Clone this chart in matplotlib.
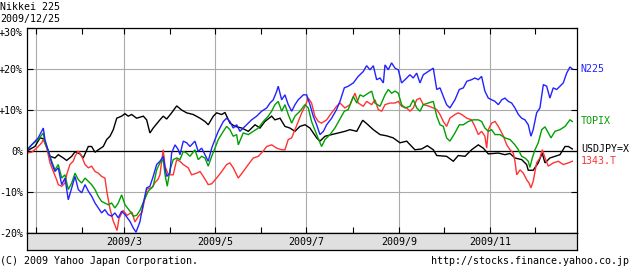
import matplotlib
matplotlib.use('Agg')
import matplotlib.pyplot as plt
import matplotlib.dates as mdates
import numpy as np
import datetime as dt

# ---- data: (days since 2009-01-01, % change since 2008-12-26) ----
usdjpy = [(-6.0, 0), (-0.5, 1.1), (2.9, 3.2), (5.1, 3.0), (7.4, 1.1), (9.6, -1.3), (12.9, -1.7),
          (15.1, -0.9), (18.5, -1.7), (20.7, -2.3), (24.1, -1.3), (26.3, -0.2), (29.6, -0.7),
          (31.8, -1.7), (35.2, 1.1), (37.4, 1.1), (39.7, -0.3), (41.9, 0.3), (45.2, 1.1),
          (47.5, 2.8), (49.7, 3.6), (51.9, 5.2), (54.2, 8.0), (57.5, 8.5), (59.7, 9.1),
          (61.9, 8.5), (64.2, 8.9), (67.5, 8.0), (72.0, 8.5), (74.2, 7.6), (76.4, 4.4),
          (78.6, 5.6), (83.1, 7.6), (85.3, 8.5), (87.6, 7.8), (90.9, 9.3), (94.3, 11.0),
          (97.6, 10.0), (101.0, 9.3), (105.4, 8.9), (109.9, 8.0), (113.2, 7.2), (115.4, 6.4),
          (118.8, 8.5), (121.0, 9.3), (124.4, 8.9), (126.6, 9.4), (129.9, 6.8), (133.3, 6.0),
          (137.8, 5.6), (142.2, 4.8), (146.7, 6.4), (150.0, 5.6), (153.3, 7.2), (157.8, 8.5),
          (160.0, 7.6), (163.4, 8.0), (166.7, 6.0), (170.0, 5.6), (173.4, 4.8), (176.7, 6.0),
          (180.1, 6.4), (183.4, 5.6), (187.9, 3.2), (190.1, 2.4), (193.5, 3.6), (197.9, 4.0),
          (202.4, 4.4), (206.8, 4.8), (210.2, 5.2), (214.7, 4.8), (218.7, 7.5), (221.3, 6.7),
          (225.8, 5.2), (230.3, 4.0), (234.7, 3.7), (239.1, 3.2), (243.6, 2.0), (248.1, 2.4),
          (253.6, 0.3), (258.1, 0.5), (261.9, 1.3), (265.9, 0.3), (268.2, -1.1), (274.8, -1.3),
          (279.3, -2.5), (282.6, -1.1), (287.1, -1.3), (291.5, 0.3), (296.0, 1.5), (299.3, 0.7),
          (302.7, -0.7), (309.4, -0.5), (313.8, -0.9), (317.2, -0.6), (320.5, -1.7), (325.0, -2.1),
          (328.3, -3.3), (329.4, -4.7), (332.7, -4.7), (336.1, -2.9), (338.7, -0.5), (340.6, -2.9),
          (343.9, -1.7), (347.3, -1.3), (350.6, -0.9), (354.0, 1.1), (356.2, 1.1), (358.9, 0.5)]

n225 = [(-6.0, 0), (-2.7, 1.5), (1.7, 3.2), (5.1, 5.6), (6.2, 2.8), (8.4, 0), (10.7, -2.9),
        (12.9, -5.0), (15.1, -4.1), (17.4, -8.2), (19.6, -6.6), (21.8, -11.9), (24.1, -9.0),
        (26.3, -6.2), (28.5, -9.4), (30.8, -10.2), (33.0, -8.2), (35.2, -9.8), (37.4, -11.0),
        (39.7, -12.7), (41.9, -13.9), (44.1, -15.1), (46.3, -14.3), (48.5, -15.5), (50.8, -15.9),
        (53.0, -15.1), (55.2, -16.3), (57.5, -14.7), (59.7, -15.5), (63.1, -17.2), (65.3, -18.8),
        (67.1, -19.8), (69.7, -17.3), (72.0, -12.7), (74.2, -9.0), (76.4, -8.6), (78.6, -6.2),
        (80.9, -3.3), (83.1, -2.5), (85.3, -1.3), (86.5, -4.1), (87.6, -6.2), (89.8, -5.4),
        (90.9, -0.5), (93.2, 1.5), (95.4, 0.3), (96.5, -0.9), (98.7, 2.4), (101.0, 2.0),
        (103.2, 1.1), (106.5, 2.4), (108.7, -0.1), (111.0, 0.7), (113.2, -0.9), (115.4, -2.5),
        (117.7, 0.7), (119.9, 2.8), (122.1, 4.8), (125.5, 7.2), (127.7, 8.0), (129.9, 7.2),
        (132.1, 5.6), (134.4, 6.4), (136.6, 4.8), (141.1, 6.4), (144.4, 7.6), (147.8, 8.5),
        (151.1, 9.7), (154.5, 10.5), (156.7, 11.7), (158.9, 12.5), (161.2, 14.6), (162.2, 15.8),
        (164.5, 12.5), (166.7, 13.7), (168.9, 11.3), (171.2, 9.7), (173.4, 11.3), (175.6, 12.5),
        (179.0, 13.7), (181.2, 13.7), (183.4, 11.3), (185.6, 8.5), (187.9, 6.4), (190.1, 4.0),
        (192.4, 4.8), (194.6, 6.4), (197.9, 8.0), (201.2, 10.1), (203.5, 12.1), (206.4, 15.4),
        (209.0, 15.8), (212.4, 16.6), (215.7, 18.2), (219.1, 19.4), (221.3, 20.8), (223.6, 19.8),
        (225.8, 20.8), (228.0, 17.4), (230.3, 17.8), (232.5, 16.6), (233.6, 21.0), (235.8, 19.8),
        (238.0, 21.5), (240.3, 20.2), (242.5, 19.8), (244.7, 16.6), (247.0, 17.4), (250.3, 18.6),
        (252.5, 17.8), (254.8, 19.0), (257.0, 16.6), (259.2, 18.6), (262.5, 19.4), (265.9, 20.2),
        (268.2, 15.0), (270.4, 15.4), (272.6, 13.3), (274.8, 11.3), (277.0, 10.5), (280.4, 12.5),
        (283.3, 15.0), (286.0, 15.4), (288.3, 17.0), (291.5, 17.4), (293.7, 17.8), (296.0, 17.4),
        (298.2, 18.2), (300.4, 14.6), (302.7, 12.9), (304.9, 12.5), (307.2, 12.1), (309.4, 11.3),
        (311.7, 12.5), (313.8, 12.9), (316.1, 12.1), (318.3, 11.7), (320.5, 10.5), (322.8, 8.9),
        (325.0, 8.0), (327.2, 7.6), (329.4, 6.4), (331.2, 3.6), (332.7, 5.2), (335.0, 9.3),
        (337.2, 10.5), (339.5, 16.2), (341.7, 15.8), (343.9, 12.9), (346.1, 15.4), (348.4, 15.0),
        (350.6, 15.8), (352.8, 16.6), (355.1, 19.0), (357.3, 20.5), (358.9, 20.0)]

topix = [(-6.0, 0.3), (-2.7, 1.5), (1.7, 2.8), (5.1, 4.4), (6.2, 2.0), (8.4, 0), (10.7, -2.5),
         (12.9, -4.6), (15.1, -3.3), (17.4, -6.6), (19.6, -5.8), (21.8, -9.4), (24.1, -7.8),
         (26.3, -5.4), (28.5, -7.0), (30.8, -7.8), (33.0, -6.6), (35.2, -7.4), (37.4, -8.2),
         (39.7, -9.4), (41.9, -11.1), (44.1, -12.3), (46.3, -12.7), (48.5, -13.1), (50.8, -12.7),
         (53.0, -13.9), (55.2, -12.7), (57.5, -10.7), (59.7, -13.1), (63.1, -14.7), (65.3, -15.9),
         (67.5, -15.7), (69.7, -14.5), (72.0, -12.5), (75.3, -9.8), (78.6, -8.6), (80.9, -4.6),
         (83.1, -2.9), (85.3, -2.1), (86.5, -5.8), (88.0, -8.6), (89.8, -4.6), (92.0, -2.1),
         (94.3, -1.7), (96.5, -2.1), (98.7, -0.1), (101.0, -0.5), (103.2, -1.3), (106.5, 0.3),
         (108.7, -2.1), (111.0, -1.3), (113.2, -1.7), (115.4, -3.7), (117.7, -1.3), (119.9, 0.7),
         (122.1, 2.8), (125.5, 4.8), (127.7, 6.0), (129.9, 5.2), (132.1, 3.6), (134.4, 4.0),
         (135.5, 1.5), (138.8, 4.4), (142.2, 4.0), (145.5, 4.8), (148.9, 5.6), (152.2, 7.2),
         (155.5, 8.5), (157.8, 9.7), (160.0, 11.3), (162.2, 12.1), (164.5, 9.7), (166.7, 11.3),
         (168.9, 8.9), (171.2, 6.8), (173.4, 8.5), (176.7, 9.7), (180.1, 11.3), (182.3, 10.5),
         (184.5, 7.2), (187.9, 4.0), (191.2, 1.1), (193.5, 2.8), (196.8, 4.0), (200.1, 5.6),
         (203.5, 7.8), (206.4, 9.7), (209.0, 10.1), (212.4, 13.3), (214.7, 11.7), (216.9, 13.7),
         (219.1, 13.3), (222.4, 14.1), (224.7, 14.6), (226.9, 11.7), (230.3, 10.9), (233.6, 13.7),
         (235.8, 15.0), (238.0, 14.1), (240.3, 14.6), (242.5, 14.1), (244.7, 11.3), (247.0, 10.5),
         (250.3, 10.9), (252.5, 12.5), (254.8, 10.5), (257.0, 9.7), (259.2, 11.3), (262.5, 11.7),
         (265.9, 12.1), (268.2, 8.5), (270.4, 6.4), (272.6, 6.0), (274.8, 3.2), (277.0, 2.4),
         (280.4, 4.4), (283.3, 6.4), (286.0, 6.4), (289.3, 7.2), (292.6, 7.6), (296.0, 7.6),
         (298.2, 7.2), (300.4, 5.6), (302.7, 4.8), (304.9, 5.2), (307.2, 4.0), (310.5, 4.0),
         (313.8, 3.2), (317.2, 2.8), (320.5, 1.5), (322.8, 0.3), (325.0, -1.3), (327.2, -1.7),
         (329.4, -2.5), (330.5, -4.0), (332.1, -1.7), (333.9, 0.3), (336.1, 2.0), (338.4, 5.2),
         (340.6, 5.9), (342.8, 4.4), (344.6, 3.2), (347.3, 4.8), (350.6, 5.2), (354.0, 6.0),
         (357.3, 7.6), (358.9, 7.2)]

etf1343 = [(-6.0, -0.5), (-2.7, -0.3), (0.7, 0.7), (4.0, 2.0), (5.1, 2.8), (7.4, 0.7), (9.6, -2.9),
           (11.8, -5.0), (14.0, -7.0), (15.1, -8.2), (17.4, -8.6), (19.6, -7.8), (20.7, -5.8),
           (22.9, -3.3), (25.1, -2.5), (26.3, -1.3), (28.5, 0), (30.8, -1.3), (33.0, -3.3),
           (35.2, -4.1), (37.4, -3.7), (39.7, -5.0), (41.9, -5.4), (44.1, -6.2), (46.3, -6.6),
           (47.7, -10.1), (49.7, -14.1), (51.7, -16.9), (54.4, -19.4), (55.7, -16.5), (58.4, -14.5),
           (61.1, -15.7), (64.4, -14.9), (66.4, -17.3), (68.4, -16.1), (71.1, -14.9), (74.4, -9.3),
           (77.8, -8.9), (79.8, -7.7), (81.8, -6.9), (83.1, -5.8), (85.3, 0.3), (86.5, -3.7),
           (88.7, -5.8), (92.0, -5.8), (94.3, -2.1), (96.5, -2.5), (98.7, -3.3), (102.0, -4.1),
           (104.3, -5.8), (107.7, -5.4), (109.9, -5.0), (112.1, -6.2), (115.4, -8.2), (117.7, -8.0),
           (121.0, -6.6), (124.4, -5.0), (127.7, -3.3), (129.9, -2.9), (132.1, -4.1), (135.5, -6.6),
           (138.8, -5.0), (142.2, -3.3), (145.5, -1.7), (148.9, -1.3), (152.2, 0), (154.5, 1.1),
           (157.8, 1.5), (161.2, 0.7), (164.5, 0.3), (166.7, 0.3), (168.9, 2.8), (171.2, 3.2),
           (173.4, 5.2), (175.6, 7.2), (177.9, 9.3), (180.1, 10.9), (182.3, 12.9), (184.5, 11.7),
           (186.7, 8.5), (189.0, 7.2), (191.2, 6.8), (194.6, 7.6), (197.9, 9.3), (201.2, 10.9),
           (203.5, 11.7), (206.8, 10.5), (210.2, 11.3), (213.5, 14.1), (215.7, 11.7), (219.1, 10.9),
           (221.3, 12.1), (224.7, 11.3), (226.9, 12.5), (229.1, 10.1), (231.4, 9.7), (233.6, 11.3),
           (236.9, 11.7), (240.3, 11.7), (242.5, 12.1), (244.7, 10.9), (248.1, 10.5), (250.3, 9.7),
           (252.5, 10.5), (254.8, 12.5), (257.0, 12.9), (259.2, 11.3), (262.5, 11.0), (265.9, 10.5),
           (268.2, 10.1), (270.4, 8.9), (272.6, 7.2), (274.8, 6.0), (277.0, 8.0), (280.4, 8.9),
           (282.6, 9.3), (284.9, 8.9), (288.3, 8.0), (291.5, 7.6), (293.7, 6.0), (296.0, 4.0),
           (298.2, 4.8), (300.4, 3.6), (301.6, 0.7), (302.7, 5.2), (304.9, 6.8), (307.2, 7.2),
           (309.4, 6.0), (312.8, 3.6), (315.0, 1.5), (317.2, 0.3), (319.4, -0.5), (320.5, -2.5),
           (321.7, -5.8), (323.9, -4.6), (326.1, -5.4), (328.3, -7.0), (329.9, -7.8), (331.2, -9.0),
           (332.7, -7.4), (335.0, -2.9), (337.2, -1.7), (338.8, 0.3), (340.6, -1.7), (342.8, -3.7),
           (346.1, -2.9), (349.5, -2.5), (352.8, -3.3), (356.2, -2.9), (358.9, -2.5)]

series_names = ['USDJPY=X', '1343.T', 'TOPIX', 'N225']
series_data = [usdjpy, etf1343, topix, n225]
series_colors = ['#000000', '#ff3333', '#00a000', '#2222ff']

y_ticks = [-20, -10, 0, 10, 20, 30]
y_labels = ['-20%', '-10%', '0%', '+10%', '+20%', '+30%']
x_label_months = [3, 5, 7, 9, 11]

# ---- figure ----
FONT = 'DejaVu Sans Mono'
FS = 7.2
plt.rcParams['font.family'] = [FONT]
W, H = 630, 273
fig = plt.figure(figsize=(W / 100, H / 100), dpi=100)
fig.patch.set_facecolor('white')

base = mdates.date2num(dt.datetime(2009, 1, 1))
ax = fig.add_axes([27 / W, 40 / H, 550 / W, 205 / H])
ax.set_xlim(base - 5.8, base + 362)
ax.set_ylim(-20, 30)

for name, data, col in zip(series_names, series_data, series_colors):
    d, v = zip(*data)
    ax.plot(base + np.array(d), np.array(v), color=col, lw=1.0, solid_joinstyle='miter')

# grid / ticks
ax.xaxis.set_major_locator(mdates.MonthLocator(bymonth=[1, 3, 5, 7, 9, 11]))
ax.xaxis.set_minor_locator(mdates.MonthLocator(bymonth=[2, 4, 6, 8, 10, 12]))
ax.set_yticks(y_ticks)
lbls = ax.set_yticklabels(y_labels, fontsize=FS, family=FONT)
lbls[-1].set_verticalalignment('top')
ax.grid(True, which='major', color='#aaaaaa', lw=0.8)
ax.axhline(0, color='black', lw=0.9, zorder=1.5)
ax.tick_params(axis='x', which='both', direction='in', length=4, width=0.8,
               top=True, bottom=True, labelbottom=False, color='black')
ax.tick_params(axis='y', direction='in', length=4, width=0.8, left=True, right=True,
               pad=2.9, labelsize=FS)
for s in ax.spines.values():
    s.set_color('black')
    s.set_linewidth(0.9)
ax.set_axisbelow(True)

# right-side labels
for name, data, col in zip(series_names, series_data, series_colors):
    ax.annotate(name, xy=(1, data[-1][1]), xycoords=ax.get_yaxis_transform(),
                xytext=(2.7, 0), textcoords='offset points', va='center', ha='left',
                color=col, fontsize=FS, family=FONT, annotation_clip=False)

# date band
bax = fig.add_axes([27 / W, 23 / H, 550 / W, 17 / H])
bax.set_facecolor('#e0e0e0')
bax.set_xlim(ax.get_xlim())
bax.set_ylim(0, 1)
bax.set_xticks([])
bax.set_yticks([])
for s in bax.spines.values():
    s.set_color('black')
    s.set_linewidth(0.9)
for m in x_label_months:
    bax.text(mdates.date2num(dt.datetime(2009, m, 1)), 0.5, f'2009/{m}', ha='center',
             va='center', fontsize=FS, family=FONT)

# header / footer
fig.text(0.5 / W, 1 - 6.5 / H, 'Nikkei 225', ha='left', va='center', fontsize=FS, family=FONT)
fig.text(0.5 / W, 1 - 19 / H, '2009/12/25', ha='left', va='center', fontsize=FS, family=FONT)
fig.text(0.5 / W, 1 - 261 / H, '(C) 2009 Yahoo Japan Corporation.', ha='left', va='center',
         fontsize=FS, family=FONT)
fig.text(1 - 0.5 / W, 1 - 261 / H, 'http://stocks.finance.yahoo.co.jp', ha='right', va='center',
         fontsize=FS, family=FONT)

fig.savefig('out.png', dpi=100, facecolor='white')
